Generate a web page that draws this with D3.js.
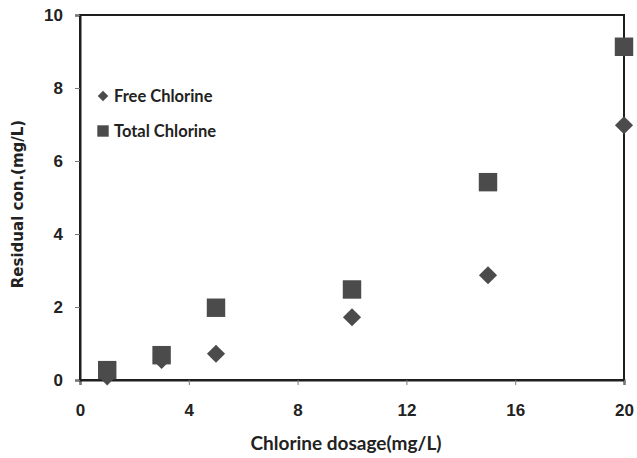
<!DOCTYPE html>
<html>
<head>
<meta charset="utf-8">
<script src="https://cdn.jsdelivr.net/npm/d3@7/dist/d3.min.js"></script>
<style>
  html, body { margin: 0; padding: 0; background: #fff; }
  svg { display: block; }
</style>
</head>
<body>
<svg id="chart" width="637" height="458"></svg>
<script>
// Chlorine dosage (mg/L) and residual concentrations (mg/L)
const dosage = [1, 3, 5, 10, 15, 20];
const freeChlorine = [0.1, 0.55, 0.72, 1.72, 2.87, 6.98];
const totalChlorine = [0.27, 0.68, 1.98, 2.48, 5.42, 9.13];
const xTicks = [0, 4, 8, 12, 16, 20];
const yTicks = [0, 2, 4, 6, 8, 10];
const seriesNames = ["Free Chlorine", "Total Chlorine"];

const svg = d3.select("#chart");
const margin = { left: 80, right: 13, top: 15, bottom: 78 };
const W = 637, H = 458;
const markColor = "#4b4b4b";
const axisColor = "#1e1e1e";

const x = d3.scaleLinear().domain([0, 20]).range([margin.left, W - margin.right]);
const y = d3.scaleLinear().domain([0, 10]).range([H - margin.bottom, margin.top]);

// frame (top and right edges)
svg.append("rect")
  .attr("x", x(0)).attr("y", y(10))
  .attr("width", x(20) - x(0)).attr("height", y(0) - y(10))
  .attr("fill", "none").attr("stroke", axisColor).attr("stroke-width", 2);

const tickFont = "'Liberation Sans Narrow', 'Arial Narrow', sans-serif";

// x axis
const gx = svg.append("g").attr("transform", `translate(0,${y(0)})`)
  .call(d3.axisBottom(x).tickValues(xTicks).tickSize(5).tickPadding(19).tickFormat(d3.format("d")));
// y axis
const gy = svg.append("g").attr("transform", `translate(${x(0)},0)`)
  .call(d3.axisLeft(y).tickValues(yTicks).tickSize(5).tickPadding(12).tickFormat(d3.format("d")));

[gx, gy].forEach(g => {
  g.select(".domain").attr("stroke", axisColor).attr("stroke-width", 2);
  g.selectAll(".tick line").attr("stroke", "#777").attr("stroke-width", 1);
  g.selectAll(".tick text")
    .attr("fill", "#222")
    .style("font-family", tickFont)
    .style("font-weight", "bold")
    .style("font-size", "17px");
});

// axis titles
svg.append("text")
  .attr("x", 346).attr("y", 450)
  .attr("text-anchor", "middle")
  .attr("fill", "#222")
  .style("font-family", "Lato, sans-serif").style("font-weight", "bold").style("font-size", "19px")
  .text("Chlorine dosage(mg/L)");

svg.append("text")
  .attr("transform", `translate(23,${204}) rotate(-90)`)
  .attr("text-anchor", "middle")
  .attr("fill", "#222")
  .style("font-family", "'DejaVu Sans', sans-serif").style("font-weight", "bold").style("font-size", "15px")
  .text("Residual con.(mg/L)");

// markers
const diamond = d3.symbol().type(d3.symbolSquare).size(165);
const square = d3.symbol().type(d3.symbolSquare).size(340);

svg.append("g").selectAll("path")
  .data(dosage.map((d, i) => [d, freeChlorine[i]]))
  .join("path")
  .attr("d", diamond)
  .attr("transform", d => `translate(${x(d[0])},${y(d[1])}) rotate(45)`)
  .attr("fill", markColor);

svg.append("g").selectAll("path")
  .data(dosage.map((d, i) => [d, totalChlorine[i]]))
  .join("path")
  .attr("d", square)
  .attr("transform", d => `translate(${x(d[0])},${y(d[1])})`)
  .attr("fill", markColor);

// legend
const legend = svg.append("g").attr("transform", "translate(103,96)");
const legendSymbols = [
  { path: d3.symbol().type(d3.symbolSquare).size(55)(), rot: 45 },
  { path: d3.symbol().type(d3.symbolSquare).size(130)(), rot: 0 }
];
seriesNames.forEach((name, i) => {
  const g = legend.append("g").attr("transform", `translate(0,${i * 35})`);
  g.append("path").attr("d", legendSymbols[i].path)
    .attr("transform", `rotate(${legendSymbols[i].rot})`)
    .attr("fill", markColor);
  g.append("text")
    .attr("x", 11).attr("y", 0).attr("dy", "0.35em")
    .attr("fill", "#222")
    .style("font-family", "Lato, sans-serif").style("font-weight", "bold").style("font-size", "16.5px")
    .text(name);
});
</script>
</body>
</html>
